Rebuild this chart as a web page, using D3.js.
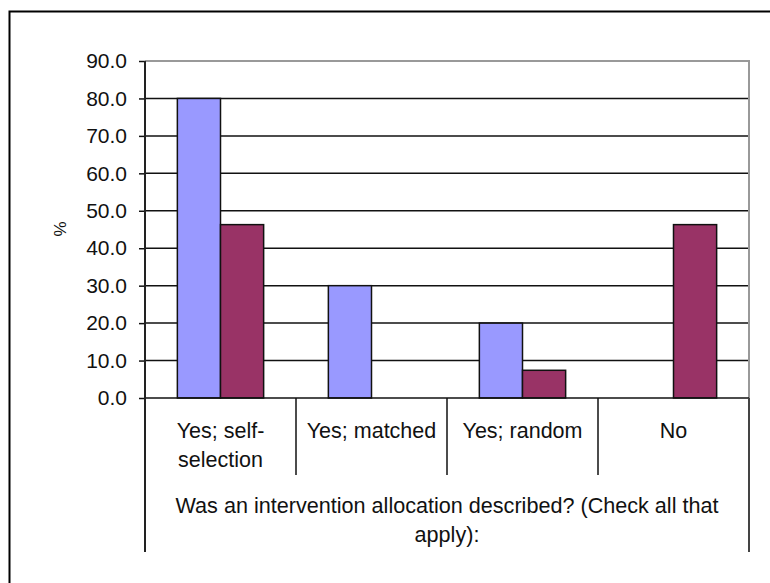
<!DOCTYPE html>
<html><head><meta charset="utf-8">
<script src="https://cdn.jsdelivr.net/npm/d3@7"></script>
<style>
html,body{margin:0;padding:0;background:#fff;}
svg{display:block;}
text{font-family:"Liberation Sans",Arial,sans-serif;fill:#111;}
</style></head>
<body>
<svg id="chart" width="770" height="583"></svg>
<script>
const categories = ["Yes; self-\nselection", "Yes; matched", "Yes; random", "No"];
const seriesNames = ["Series A", "Series B"];
const seriesA = [80.0, 30.0, 20.0, 0.0];
const seriesB = [46.3, 0.0, 7.4, 46.3];
const yTicks = [0, 10, 20, 30, 40, 50, 60, 70, 80, 90];
const yLabel = "%";
const xTitle = ["Was an intervention allocation described? (Check all that", "apply):"];
const colors = ["#9999FF", "#993366"];

const svg = d3.select("#chart");
const L = 145, R = 749, T = 61, B = 398;

// outer frame
svg.append("rect").attr("x", 9.5).attr("y", 11.5).attr("width", 800).attr("height", 700)
  .attr("fill", "#fff").attr("stroke", "#000").attr("stroke-width", 2);

const x = d3.scaleBand().domain(categories).range([L, R]).padding(0);
const xs = d3.scaleBand().domain(seriesNames).range([0, x.bandwidth()]).paddingInner(0).paddingOuter(0.75);
const y = d3.scaleLinear().domain([0, 90]).range([B, T]);

// gridlines
svg.append("g").selectAll("line").data(yTicks.filter(d => d > 0 && d < 90)).join("line")
  .attr("x1", L).attr("x2", R).attr("y1", d => y(d)).attr("y2", d => y(d))
  .attr("stroke", "#111").attr("stroke-width", 1.5);

// plot border top/right (gray)
svg.append("path").attr("d", `M${L},${y(90)}H${R}V${B}`)
  .attr("fill", "none").attr("stroke", "#999").attr("stroke-width", 2);

// bars
const data = [];
categories.forEach((c, i) => {
  data.push({c, s: seriesNames[0], v: seriesA[i], col: colors[0]});
  data.push({c, s: seriesNames[1], v: seriesB[i], col: colors[1]});
});
svg.append("g").selectAll("rect").data(data.filter(d => d.v > 0)).join("rect")
  .attr("x", d => x(d.c) + xs(d.s))
  .attr("width", xs.bandwidth())
  .attr("y", d => y(d.v))
  .attr("height", d => y(0) - y(d.v))
  .attr("fill", d => d.col)
  .attr("stroke", "#111").attr("stroke-width", 1.5);

// y axis
const yAxis = d3.axisLeft(y).tickValues(yTicks).tickFormat(d3.format(".1f")).tickSize(6).tickPadding(12);
const gy = svg.append("g").attr("transform", `translate(${L},0)`).call(yAxis);
gy.select(".domain").remove();
gy.selectAll(".tick line").attr("stroke", "#111").attr("stroke-width", 1.5);
gy.selectAll(".tick text").style("font-size", "21px").attr("fill", "#222").attr("font-family", "Liberation Sans, Arial, sans-serif");

// baseline
svg.append("line").attr("x1", L).attr("x2", R).attr("y1", B).attr("y2", B)
  .attr("stroke", "#111").attr("stroke-width", 1.5);

// left axis line extending down
svg.append("line").attr("x1", L).attr("x2", L).attr("y1", T).attr("y2", 552)
  .attr("stroke", "#222").attr("stroke-width", 2);
// right axis line below plot
svg.append("line").attr("x1", R).attr("x2", R).attr("y1", B).attr("y2", 552)
  .attr("stroke", "#444").attr("stroke-width", 2);

// category separators
svg.append("g").selectAll("line").data(categories.slice(1)).join("line")
  .attr("x1", d => x(d)).attr("x2", d => x(d)).attr("y1", B).attr("y2", 475)
  .attr("stroke", "#111").attr("stroke-width", 1.5);

// category labels
const cl = svg.append("g").selectAll("text").data(categories).join("text")
  .attr("x", d => x(d) + x.bandwidth() / 2).attr("y", 438)
  .attr("text-anchor", "middle").style("font-size", "21.5px");
cl.each(function(d) {
  const lines = d.split("\n");
  d3.select(this).selectAll("tspan").data(lines).join("tspan")
    .attr("x", x(d) + x.bandwidth() / 2).attr("dy", (l, i) => i === 0 ? 0 : 29).text(l => l);
});

// x title
svg.append("text").attr("text-anchor", "middle").style("font-size", "21.6px")
  .selectAll("tspan").data(xTitle).join("tspan")
  .attr("x", (L + R) / 2).attr("y", (d, i) => 513 + i * 29).text(d => d);

// y label
svg.append("text").attr("transform", `translate(66,229) rotate(-90)`)
  .attr("text-anchor", "middle").style("font-size", "17px").text(yLabel);
</script>
</body></html>
